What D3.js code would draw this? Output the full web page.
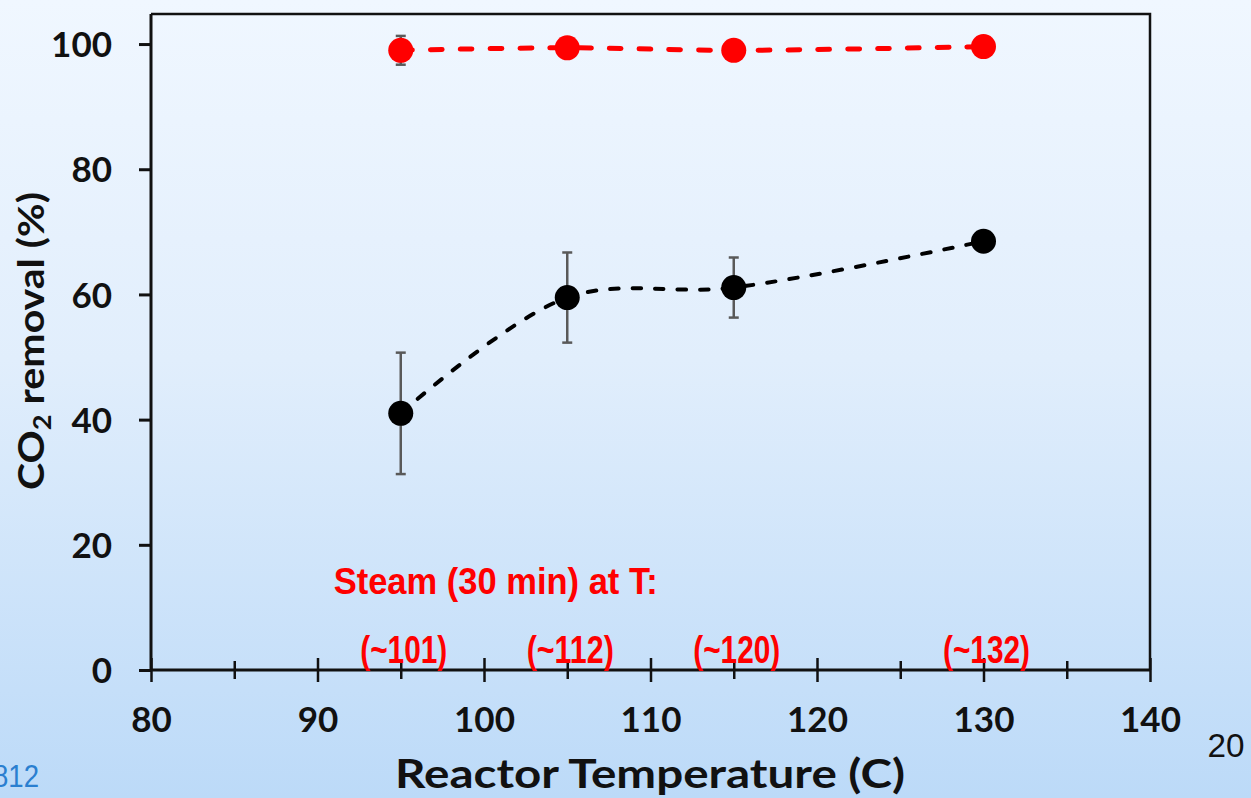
<!DOCTYPE html>
<html>
<head>
<meta charset="utf-8">
<script src="https://cdn.jsdelivr.net/npm/d3@7"></script>
<style>
  html, body { margin: 0; padding: 0; overflow: hidden; }
  svg { display: block; }
</style>
</head>
<body>
<div id="chart"></div>
<script>
// ---- data ----
const temperatures = [95, 105, 115, 130];
const removalSteam = [99.0, 99.4, 99.0, 99.6];
const removalSteamErr = [2.3, 0, 0, 0];
const removalDry = [41.0, 59.5, 61.1, 68.5];
const removalDryErr = [9.7, 7.2, 4.8, 0];
const steamTempLabels = ["(~101)", "(~112)", "(~120)", "(~132)"];
const xMajorTicks = [80, 90, 100, 110, 120, 130, 140];
const xMinorTicks = [85, 95, 105, 115, 125, 135];
const yTicks = [0, 20, 40, 60, 80, 100];

// ---- layout ----
const W = 1251, H = 798;
const plot = { left: 151, right: 1150, top: 14, bottom: 670 };
const BOLD_FONT = "Lato, 'Open Sans', sans-serif";
const NOTE_FONT = "'Liberation Sans Narrow', 'Liberation Sans', Arial, sans-serif";

const x = d3.scaleLinear().domain([80, 140]).range([plot.left, plot.right]);
const y = d3.scaleLinear().domain([0, 104.8]).range([plot.bottom, plot.top]);

const svg = d3.select("#chart").append("svg")
  .attr("width", W).attr("height", H);

// slide background
const defs = svg.append("defs");
const grad = defs.append("linearGradient")
  .attr("id", "bg").attr("x1", 0).attr("y1", 0).attr("x2", 0).attr("y2", 1);
grad.append("stop").attr("offset", "0%").attr("stop-color", "#f0f7ff");
grad.append("stop").attr("offset", "45%").attr("stop-color", "#e1eefc");
grad.append("stop").attr("offset", "100%").attr("stop-color", "#bcdaf8");
svg.append("rect").attr("width", W).attr("height", H).attr("fill", "url(#bg)");

// stretch a text horizontally so it spans the wanted width
function widthScale(sel, target) {
  const w = sel.node().getBBox().width;
  return w > 0 ? target / w : 1;
}

// ---- plot frame (top and right edges) ----
svg.append("path")
  .attr("d", `M${plot.left},${plot.top}H${plot.right}V${plot.bottom}`)
  .attr("fill", "none").attr("stroke", "#111").attr("stroke-width", 2.5);

// ---- y axis ----
const yAxis = svg.append("g")
  .attr("transform", `translate(${plot.left},0)`)
  .call(d3.axisLeft(y).tickValues(yTicks).tickSize(12).tickPadding(27).tickFormat(d3.format("d")));
yAxis.select(".domain").attr("d", `M0,${plot.top}V${plot.bottom}`)
  .attr("stroke", "#111").attr("stroke-width", 3);
yAxis.selectAll(".tick line").attr("stroke", "#111").attr("stroke-width", 3);
yAxis.selectAll(".tick text")
  .attr("font-family", BOLD_FONT).attr("font-weight", 700).attr("font-size", 35)
  .attr("fill", "#111").attr("dy", "0.36em");

// ---- x axis: major and minor ticks cross the axis line ----
const xAxis = svg.append("g")
  .attr("transform", `translate(0,${plot.bottom})`)
  .call(d3.axisBottom(x).tickValues(xMajorTicks).tickSize(12).tickFormat(d3.format("d")));
xAxis.select(".domain").attr("d", `M${plot.left},0H${plot.right}`)
  .attr("stroke", "#111").attr("stroke-width", 3);
xAxis.selectAll(".tick line").attr("y1", -12).attr("stroke", "#111").attr("stroke-width", 2.5);
xAxis.selectAll(".tick text")
  .attr("font-family", BOLD_FONT).attr("font-weight", 700).attr("font-size", 35)
  .attr("fill", "#111").attr("y", 62).attr("dy", 0);

const xMinor = svg.append("g")
  .attr("transform", `translate(0,${plot.bottom})`)
  .call(d3.axisBottom(x).tickValues(xMinorTicks).tickSize(9).tickFormat(""));
xMinor.select(".domain").remove();
xMinor.selectAll(".tick line").attr("y1", -9).attr("stroke", "#111").attr("stroke-width", 2.5);

// ---- axis titles ----
const xTitle = svg.append("text")
  .attr("text-anchor", "middle")
  .attr("font-family", BOLD_FONT).attr("font-weight", 700).attr("font-size", 40)
  .attr("fill", "#111")
  .text("Reactor Temperature (C)");
xTitle.attr("transform", `translate(650,788) scale(${widthScale(xTitle, 510)},1)`);

const yTitle = svg.append("text")
  .attr("text-anchor", "middle")
  .attr("font-family", BOLD_FONT).attr("font-weight", 700).attr("font-size", 36)
  .attr("fill", "#111");
yTitle.append("tspan").text("CO");
yTitle.append("tspan").attr("font-size", 24).attr("dy", 7).text("2");
yTitle.append("tspan").attr("dy", -7).text(" removal (%)");
yTitle.attr("transform", `translate(44,341) rotate(-90) scale(${widthScale(yTitle, 298)},1)`);

// ---- series ----
const curve = d3.curveCatmullRom.alpha(0.5);
const pts = (vals) => temperatures.map((t, i) => ({ t, v: vals[i] }));
const lineGen = d3.line().x(d => x(d.t)).y(d => y(d.v)).curve(curve);

const series = [
  { vals: removalDry, errs: removalDryErr, color: "#000", width: 4, dash: "8.5 14", r: 12.5 },
  { vals: removalSteam, errs: removalSteamErr, color: "#ff0000", width: 5, dash: "11.7 18.1", r: 12.5 }
];

series.forEach(s => {
  svg.append("path")
    .datum(pts(s.vals))
    .attr("d", lineGen)
    .attr("fill", "none")
    .attr("stroke", s.color).attr("stroke-width", s.width)
    .attr("stroke-dasharray", s.dash).attr("stroke-linecap", "round");
});

series.forEach(s => {
  const eb = svg.append("g").attr("stroke", "#595959").attr("stroke-width", 2.5);
  temperatures.forEach((t, i) => {
    const e = s.errs[i];
    if (!e) return;
    const cx = x(t), y0 = y(s.vals[i] - e), y1 = y(s.vals[i] + e);
    eb.append("line").attr("x1", cx).attr("x2", cx).attr("y1", y0).attr("y2", y1);
    eb.append("line").attr("x1", cx - 5).attr("x2", cx + 5).attr("y1", y0).attr("y2", y0);
    eb.append("line").attr("x1", cx - 5).attr("x2", cx + 5).attr("y1", y1).attr("y2", y1);
  });
});

series.forEach(s => {
  svg.append("g").selectAll("circle")
    .data(pts(s.vals))
    .join("circle")
    .attr("cx", d => x(d.t)).attr("cy", d => y(d.v))
    .attr("r", s.r).attr("fill", s.color);
});

// ---- steam temperature notes ----
svg.append("text")
  .attr("x", x(100.7)).attr("y", 594)
  .attr("text-anchor", "middle")
  .attr("font-family", NOTE_FONT).attr("font-weight", 700).attr("font-size", 37)
  .attr("fill", "#ff0000")
  .attr("textLength", 324).attr("lengthAdjust", "spacingAndGlyphs")
  .text("Steam (30 min) at T:");

svg.append("g").selectAll("text")
  .data(temperatures)
  .join("text")
  .attr("x", d => x(d) + 3).attr("y", 663)
  .attr("text-anchor", "middle")
  .attr("font-family", NOTE_FONT).attr("font-weight", 700).attr("font-size", 38)
  .attr("fill", "#ff0000")
  .attr("textLength", 87).attr("lengthAdjust", "spacingAndGlyphs")
  .text((d, i) => steamTempLabels[i]);

// ---- slide footer ----
svg.append("text")
  .attr("x", 1226).attr("y", 757).attr("text-anchor", "middle")
  .attr("font-family", "'Liberation Sans', Arial, sans-serif").attr("font-size", 34)
  .attr("fill", "#111")
  .attr("textLength", 37).attr("lengthAdjust", "spacingAndGlyphs")
  .text("20");

svg.append("text")
  .attr("x", -7).attr("y", 787)
  .attr("font-family", NOTE_FONT).attr("font-size", 32)
  .attr("fill", "#2a7fd0")
  .attr("textLength", 46).attr("lengthAdjust", "spacingAndGlyphs")
  .text("812");
</script>
</body>
</html>
